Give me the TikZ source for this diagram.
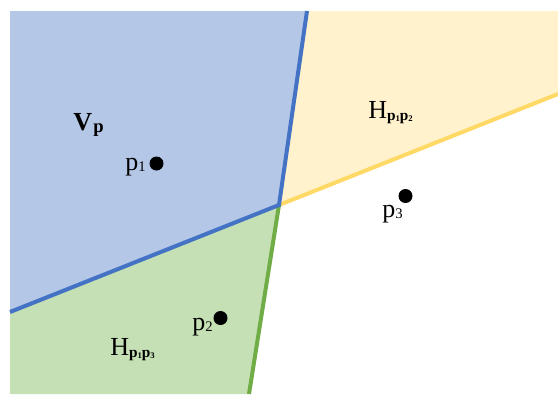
\documentclass[tikz,border=0pt]{standalone}
\usepackage{fontspec}
\setmainfont{Liberation Serif}
\definecolor{bfill}{HTML}{B4C7E7}
\definecolor{yfill}{HTML}{FFF2CC}
\definecolor{gfill}{HTML}{C5E0B4}
\definecolor{bline}{HTML}{4472C4}
\definecolor{yline}{HTML}{FFD966}
\definecolor{gline}{HTML}{70AD47}
\tikzset{
  site/.style={circle,fill=black,inner sep=0pt,minimum size=10.5pt},
  lbl/.style={anchor=base west,inner sep=0pt,font=\fontsize{19.5}{22}\selectfont},
  edge/.style={line width=3pt},
}
\newcommand{\sbb}[1]{\raisebox{-2pt}{\fontsize{11.5}{12}\selectfont\bfseries #1}}
\newcommand{\vsub}[1]{\raisebox{-2pt}{\fontsize{14}{15}\selectfont\bfseries #1}}
\newcommand{\tdig}[1]{\raisebox{-0.5pt}{\fontsize{6.5}{7}\selectfont #1}}
\newcommand{\sdig}[1]{\raisebox{-1pt}{\fontsize{11}{12}\selectfont #1}}
\begin{document}
\begin{tikzpicture}[x=0.75pt,y=-0.75pt]
\useasboundingbox (0,0) rectangle (558,394);
\coordinate (tl) at (10,11);
\coordinate (top) at (307,11);
\coordinate (tr) at (558,11);
\coordinate (rt) at (558,94);
\coordinate (v) at (279,205);
\coordinate (lf) at (10,312);
\coordinate (bt) at (249,394);
\coordinate (bl) at (10,394);
\fill[bfill] (tl) -- (top) -- (v) -- (lf) -- cycle;
\fill[yfill] (top) -- (tr) -- (rt) -- (v) -- cycle;
\fill[gfill] (lf) -- (v) -- (bt) -- (bl) -- cycle;
\draw[edge,yline] (v) -- (rt);
\draw[edge,gline] (v) -- (bt);
\draw[edge,bline,line join=miter] (top) -- (v) -- (lf);
\node[site] (p1) at (156.5,163.5) {};
\node[site] (p2) at (220.5,318) {};
\node[site] (p3) at (405.5,196) {};
\node[lbl] (lv) at (73,130) {\textbf{V}\kern1pt\vsub{p}};
\node[lbl] (l1) at (125,170) {p\sdig{1}};
\node[lbl] (l2) at (192,330) {p\sdig{2}};
\node[lbl] (l3) at (382,217) {p\sdig{3}};
\node[lbl] (h12) at (368,118) {H\sbb{p\tdig{1}p\tdig{2}}};
\node[lbl] (h13) at (110,355) {H\sbb{p\tdig{1}p\tdig{3}}};
\end{tikzpicture}
\end{document}
